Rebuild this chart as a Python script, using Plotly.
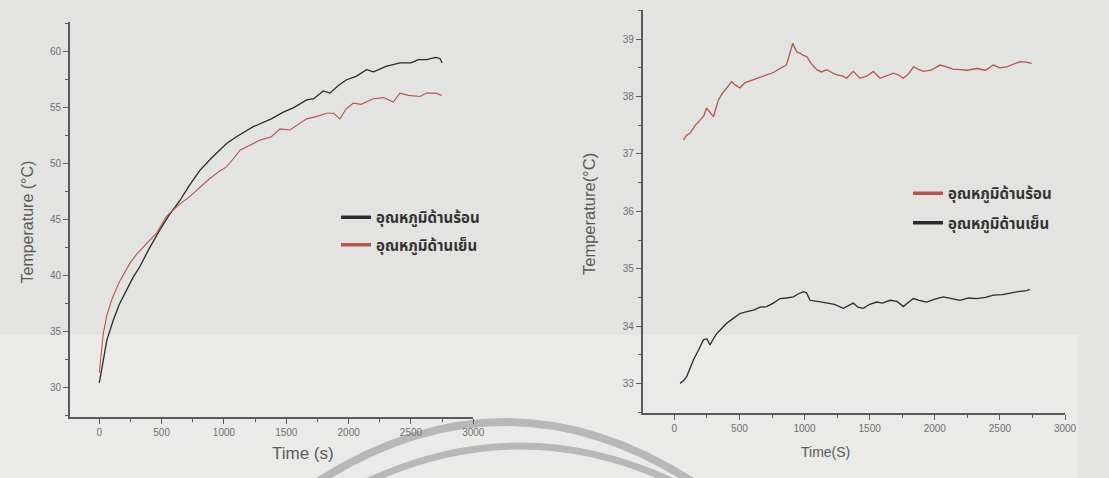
import plotly.graph_objects as go

# ---------------- data ----------------
left_hot_t = [0, 15, 32, 60, 112, 160, 219, 270, 326, 400, 487, 560, 647, 720, 807, 900, 1021, 1100,
              1235, 1300, 1380, 1476, 1560, 1663, 1720, 1797, 1850, 1920, 1984, 2060, 2144, 2200, 2300,
              2412, 2500, 2560, 2626, 2700, 2733, 2750]
left_hot_T = [30.4, 31.2, 32.4, 34.2, 36.0, 37.4, 38.7, 39.8, 40.8, 42.4, 44.1, 45.4, 46.7, 48.0, 49.4,
              50.5, 51.8, 52.4, 53.3, 53.6, 54.0, 54.6, 55.0, 55.7, 55.8, 56.5, 56.3, 57.0, 57.5, 57.8,
              58.4, 58.2, 58.7, 59.0, 59.0, 59.3, 59.3, 59.5, 59.4, 59.0]

left_cold_t = [0, 12, 32, 60, 99, 160, 246, 300, 380, 460, 540, 600, 647, 720, 807, 880, 960, 1021, 1080,
               1128, 1200, 1289, 1380, 1450, 1529, 1580, 1663, 1740, 1824, 1880, 1930, 1980, 2037, 2100,
               2198, 2280, 2358, 2412, 2480, 2572, 2626, 2700, 2746]
left_cold_T = [31.3, 32.8, 34.8, 36.4, 37.8, 39.4, 41.1, 41.9, 42.9, 43.8, 45.3, 45.9, 46.4, 47.0, 47.9,
               48.6, 49.3, 49.7, 50.5, 51.2, 51.6, 52.1, 52.4, 53.1, 53.0, 53.4, 54.0, 54.2, 54.5, 54.5,
               54.0, 54.9, 55.4, 55.3, 55.8, 55.9, 55.5, 56.3, 56.1, 56.0, 56.3, 56.3, 56.1]

right_hot_t = [69, 95, 120, 160, 197, 225, 248, 275, 300, 338, 370, 402, 440, 470, 504, 540, 607, 650, 709,
               760, 812, 860, 888, 909, 940, 965, 990, 1016, 1050, 1093, 1130, 1170, 1210, 1247, 1290,
               1323, 1374, 1426, 1480, 1528, 1580, 1630, 1682, 1720, 1759, 1800, 1836, 1870, 1912, 1970,
               2040, 2091, 2140, 2194, 2250, 2322, 2390, 2450, 2500, 2552, 2600, 2655, 2700, 2744]
right_hot_T = [37.24, 37.33, 37.36, 37.50, 37.59, 37.66, 37.80, 37.72, 37.65, 37.94, 38.06, 38.15, 38.26,
               38.20, 38.15, 38.24, 38.29, 38.33, 38.38, 38.42, 38.49, 38.55, 38.76, 38.93, 38.78, 38.76,
               38.72, 38.70, 38.58, 38.47, 38.43, 38.47, 38.42, 38.38, 38.36, 38.32, 38.44, 38.32, 38.36,
               38.44, 38.32, 38.36, 38.41, 38.38, 38.32, 38.40, 38.52, 38.48, 38.44, 38.46, 38.55, 38.52,
               38.48, 38.47, 38.46, 38.49, 38.46, 38.55, 38.50, 38.52, 38.56, 38.61, 38.60, 38.58]

right_cold_t = [44, 70, 95, 120, 146, 185, 223, 250, 274, 300, 325, 360, 402, 450, 504, 550, 607, 660, 709,
                760, 812, 860, 914, 950, 991, 1015, 1042, 1100, 1170, 1230, 1298, 1340, 1374, 1410, 1451,
                1500, 1554, 1600, 1656, 1710, 1759, 1800, 1836, 1880, 1938, 2000, 2066, 2130, 2194, 2260,
                2322, 2390, 2450, 2520, 2578, 2640, 2706, 2730]
right_cold_T = [33.00, 33.05, 33.12, 33.26, 33.41, 33.58, 33.76, 33.78, 33.67, 33.78, 33.87, 33.95, 34.05,
                34.13, 34.22, 34.25, 34.28, 34.33, 34.34, 34.40, 34.48, 34.49, 34.51, 34.56, 34.60, 34.58,
                34.45, 34.43, 34.40, 34.38, 34.31, 34.36, 34.40, 34.33, 34.31, 34.38, 34.42, 34.40, 34.45,
                34.43, 34.34, 34.42, 34.48, 34.45, 34.42, 34.47, 34.51, 34.48, 34.45, 34.49, 34.48, 34.50,
                34.54, 34.55, 34.58, 34.60, 34.62, 34.64]

hot_label = "อุณหภูมิด้านร้อน"
cold_label = "อุณหภูมิด้านเย็น"

x_ticks = [0, 500, 1000, 1500, 2000, 2500, 3000]
left_y_ticks = [30, 35, 40, 45, 50, 55, 60]
right_y_ticks = [33, 34, 35, 36, 37, 38, 39]

# ---------------- style ----------------
W, H = 1109, 478
BG = "#e3e3e1"
BLACK = "#2b2b2b"
RED = "#b5564a"
AXIS = "#5a5a5a"
TICKTXT = "#707070"
TITLETXT = "#5a5a5a"
THAI_FONT = "Noto Sans Thai, Noto Sans, DejaVu Sans, sans-serif"
LAT_FONT = "Liberation Sans, Arial, sans-serif"


def px(x):
    return x / W


def py(y):
    return 1 - y / H


fig = go.Figure()

# left panel
fig.add_trace(go.Scatter(x=left_hot_t, y=left_hot_T, mode="lines", line=dict(color=BLACK, width=1.3),
                         xaxis="x", yaxis="y", showlegend=False))
fig.add_trace(go.Scatter(x=left_cold_t, y=left_cold_T, mode="lines", line=dict(color=RED, width=1.1),
                         xaxis="x", yaxis="y", showlegend=False))
fig.add_trace(go.Scatter(x=[None], y=[None], mode="lines", line=dict(color=BLACK, width=3.5),
                         name=hot_label, xaxis="x", yaxis="y", legend="legend", legendgroup="lh"))
fig.add_trace(go.Scatter(x=[None], y=[None], mode="lines", line=dict(color=RED, width=3.5),
                         name=cold_label, xaxis="x", yaxis="y", legend="legend", legendgroup="lc"))

# right panel
fig.add_trace(go.Scatter(x=right_hot_t, y=right_hot_T, mode="lines", line=dict(color=RED, width=1.3),
                         xaxis="x2", yaxis="y2", showlegend=False))
fig.add_trace(go.Scatter(x=right_cold_t, y=right_cold_T, mode="lines", line=dict(color=BLACK, width=1.3),
                         xaxis="x2", yaxis="y2", showlegend=False))
fig.add_trace(go.Scatter(x=[None], y=[None], mode="lines", line=dict(color=RED, width=3.5),
                         name=hot_label, xaxis="x2", yaxis="y2", legend="legend2", legendgroup="rh"))
fig.add_trace(go.Scatter(x=[None], y=[None], mode="lines", line=dict(color=BLACK, width=3.5),
                         name=cold_label, xaxis="x2", yaxis="y2", legend="legend2", legendgroup="rc"))

axis_common = dict(showline=True, linecolor=AXIS, linewidth=1.6, showgrid=False, zeroline=False,
                   ticks="outside", tickcolor=AXIS, tickwidth=1.4, ticklen=5, automargin=False,
                   tickfont=dict(family=LAT_FONT, size=10, color=TICKTXT), mirror=False)

legend_font = dict(family=THAI_FONT, size=15, color="#333333", weight="bold")

fig.update_layout(
    width=W, height=H,
    margin=dict(l=0, r=0, t=0, b=0),
    paper_bgcolor=BG,
    plot_bgcolor="rgba(0,0,0,0)",
    xaxis=dict(domain=[px(70), px(473.3)], range=[-235, 3000], tickvals=x_ticks, anchor="y",
               minor=dict(dtick=250, tick0=0, ticks="outside", ticklen=3, tickcolor=AXIS, tickwidth=1.2),
               **axis_common),
    yaxis=dict(domain=[py(416.7), py(22)], range=[27.37, 62.66], tickvals=left_y_ticks, anchor="x",
               minor=dict(dtick=2.5, tick0=0, ticks="outside", ticklen=3, tickcolor=AXIS, tickwidth=1.2),
               **axis_common),
    xaxis2=dict(domain=[px(642.7), px(1065)], range=[-243, 3000], tickvals=x_ticks, anchor="y2",
                minor=dict(dtick=250, tick0=0, ticks="outside", ticklen=3, tickcolor=AXIS, tickwidth=1.2),
                **axis_common),
    yaxis2=dict(domain=[py(413.3), py(10)], range=[32.48, 39.51], tickvals=right_y_ticks, anchor="x2",
                minor=dict(dtick=0.5, tick0=0, ticks="outside", ticklen=3, tickcolor=AXIS, tickwidth=1.2),
                **axis_common),
    legend=dict(x=px(336), y=py(201), xanchor="left", yanchor="top", bgcolor="rgba(0,0,0,0)",
                font=legend_font, tracegroupgap=5, itemwidth=30, traceorder="grouped"),
    legend2=dict(x=px(908), y=py(177), xanchor="left", yanchor="top", bgcolor="rgba(0,0,0,0)",
                 font=legend_font, tracegroupgap=7, itemwidth=30, traceorder="grouped"),
    showlegend=True,
)

# axis titles
fig.add_annotation(text="Time (s)", x=px(270), y=py(465), xref="paper", yref="paper", showarrow=False,
                   font=dict(family=LAT_FONT, size=17, color=TITLETXT))
fig.add_annotation(text="Time(S)", x=px(852), y=py(462), xref="paper", yref="paper", showarrow=False,
                   font=dict(family=LAT_FONT, size=14, color=TITLETXT))
fig.add_annotation(text="Temperature (°C)", x=px(17), y=py(222), xref="paper", yref="paper", showarrow=False,
                   textangle=-90, font=dict(family=LAT_FONT, size=16, color=TITLETXT))
fig.add_annotation(text="Temperature(°C)", x=px(589), y=py(214), xref="paper", yref="paper", showarrow=False,
                   textangle=-90, font=dict(family=LAT_FONT, size=16.5, color=TITLETXT))

# scan artefacts: lighter band and watermark arcs
fig.add_shape(type="rect", xref="paper", yref="paper", x0=0, x1=px(1078), y0=py(478), y1=py(335),
              fillcolor="#eaeae8", line=dict(width=0), layer="below")
fig.add_shape(type="path", xref="paper", yref="paper", layer="below",
              path=f"M {px(305)},{py(490)} Q {px(505)},{py(354)} {px(705)},{py(490)}",
              line=dict(color="#b8b8b8", width=8))
fig.add_shape(type="path", xref="paper", yref="paper", layer="below",
              path=f"M {px(350)},{py(490)} Q {px(520)},{py(402)} {px(690)},{py(490)}",
              line=dict(color="#b8b8b8", width=7))

fig.write_html("out.html", config={"displayModeBar": False},
               post_script=f"document.body.style.margin='0';document.body.style.background='{BG}';")
